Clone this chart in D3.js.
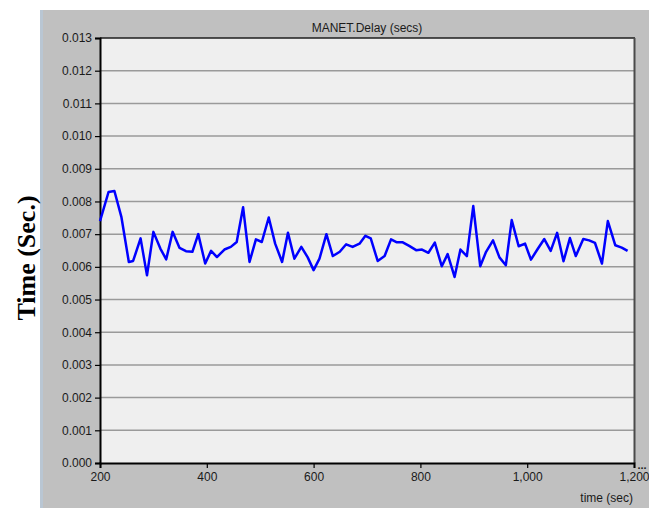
<!DOCTYPE html>
<html>
<head>
<meta charset="utf-8">
<script src="https://cdn.jsdelivr.net/npm/d3@7"></script>
<style>
  html, body { margin: 0; padding: 0; background: #ffffff; }
  svg { display: block; }
</style>
</head>
<body>
<svg id="chart" width="649" height="508"></svg>
<script>
// ---- data ----
const chartTitle = "MANET.Delay (secs)";
const xAxisLabel = "time (sec)";
const yAxisLabel = "Time (Sec.)";
const xTickValues = [200, 400, 600, 800, 1000, 1200];
const yTickValues = [0, 0.001, 0.002, 0.003, 0.004, 0.005, 0.006, 0.007, 0.008, 0.009, 0.010, 0.011, 0.012, 0.013];
const times = [200, 216, 227, 240, 254, 262, 276, 288, 300, 313, 324, 336, 349, 361, 373, 384, 397, 408, 419, 433,
  445, 456, 468, 480, 492, 503, 516, 528, 541, 552, 564, 577, 589, 600, 611, 624, 636, 649, 661, 673,
  686, 697, 707, 720, 733, 745, 756, 767, 779, 792, 803, 815, 827, 840, 851, 864, 875, 887, 899, 912,
  923, 936, 948, 960, 971, 984, 996, 1007, 1019, 1032, 1044, 1056, 1068, 1080, 1091, 1105, 1116, 1127, 1140, 1151,
  1165, 1177, 1188];
const delay = [0.00740, 0.00829, 0.00832, 0.00753, 0.00615, 0.00618, 0.00687, 0.00574, 0.00707, 0.00656,
  0.00623, 0.00707, 0.00658, 0.00648, 0.00646, 0.00700, 0.00610, 0.00649, 0.00630, 0.00653,
  0.00661, 0.00676, 0.00782, 0.00615, 0.00684, 0.00676, 0.00751, 0.00671, 0.00615, 0.00704,
  0.00625, 0.00661, 0.00629, 0.00590, 0.00625, 0.00700, 0.00633, 0.00646, 0.00669, 0.00661,
  0.00671, 0.00695, 0.00687, 0.00618, 0.00633, 0.00684, 0.00675, 0.00675, 0.00664, 0.00651,
  0.00653, 0.00643, 0.00674, 0.00602, 0.00639, 0.00569, 0.00653, 0.00633, 0.00786, 0.00602,
  0.00646, 0.00681, 0.00629, 0.00605, 0.00743, 0.00663, 0.00671, 0.00622, 0.00653, 0.00685,
  0.00649, 0.00704, 0.00617, 0.00688, 0.00633, 0.00685, 0.00681, 0.00673, 0.00610, 0.00740,
  0.00666, 0.00659, 0.00649];

// ---- layout ----
const svg = d3.select("#chart");
const W = 649, H = 508;
const plot = { left: 100, right: 634, top: 38, bottom: 463 };
const font = "'Liberation Sans', Arial, sans-serif";

// window background
svg.append("rect").attr("x", 0).attr("y", 0).attr("width", W).attr("height", H).attr("fill", "#ffffff");
svg.append("rect").attr("x", 40).attr("y", 10).attr("width", 3).attr("height", H - 10).attr("fill", "#b9c6d3");
svg.append("rect").attr("x", 43).attr("y", 10).attr("width", W - 43).attr("height", H - 10).attr("fill", "#c0c0c0");

const x = d3.scaleLinear().domain([200, 1200]).range([plot.left, plot.right]);
const y = d3.scaleLinear().domain([0, 0.013]).range([plot.bottom, plot.top]);

// plot area
svg.append("rect")
  .attr("x", plot.left).attr("y", plot.top)
  .attr("width", plot.right - plot.left).attr("height", plot.bottom - plot.top)
  .attr("fill", "#efefef");

// gridlines
svg.append("g")
  .selectAll("line")
  .data(yTickValues.filter(v => v > 0 && v < 0.013))
  .join("line")
  .attr("x1", plot.left).attr("x2", plot.right)
  .attr("y1", d => y(d)).attr("y2", d => y(d))
  .attr("stroke", "#9a9a9a").attr("stroke-width", 1.5);

// frame: top and right
svg.append("line").attr("x1", plot.left).attr("x2", plot.right + 1).attr("y1", plot.top).attr("y2", plot.top)
  .attr("stroke", "#1e1e1e").attr("stroke-width", 1.5);
svg.append("line").attr("x1", plot.right + 0.5).attr("x2", plot.right + 0.5).attr("y1", plot.top).attr("y2", plot.bottom)
  .attr("stroke", "#4a4a4a").attr("stroke-width", 2);

// axes
const yAxis = d3.axisLeft(y).tickValues(yTickValues).tickFormat(d3.format(".3f")).tickSize(5).tickPadding(3);
const gy = svg.append("g").attr("transform", `translate(${plot.left},0)`).call(yAxis);
gy.select(".domain").attr("stroke", "#000").attr("stroke-width", 2);
gy.selectAll(".tick line").attr("stroke", "#000").attr("stroke-width", 1.2);
gy.selectAll(".tick text").attr("font-family", font).attr("font-size", 12).attr("fill", "#1a1a1a");

const xAxis = d3.axisBottom(x).tickValues(xTickValues).tickFormat(d3.format(",")).tickSize(5).tickPadding(4);
const gx = svg.append("g").attr("transform", `translate(0,${plot.bottom})`).call(xAxis);
gx.select(".domain").attr("stroke", "#000").attr("stroke-width", 2);
gx.selectAll(".tick line").attr("stroke", "#000").attr("stroke-width", 1.2);
gx.selectAll(".tick text").attr("font-family", font).attr("font-size", 12).attr("fill", "#1a1a1a");

// data line
const line = d3.line().x((d, i) => x(times[i])).y(d => y(d));
svg.append("path")
  .datum(delay)
  .attr("d", line)
  .attr("fill", "none")
  .attr("stroke", "#0000ff")
  .attr("stroke-width", 2.5)
  .attr("stroke-linejoin", "round");

// title
svg.append("text")
  .attr("x", (plot.left + plot.right) / 2).attr("y", 32)
  .attr("text-anchor", "middle")
  .attr("font-family", font).attr("font-size", 12).attr("fill", "#1a1a1a")
  .text(chartTitle);

// x axis label
svg.append("text")
  .attr("x", plot.right - 1).attr("y", 502)
  .attr("text-anchor", "end")
  .attr("font-family", font).attr("font-size", 12).attr("fill", "#1a1a1a")
  .text(xAxisLabel);

// ellipsis marker near right end
svg.append("text")
  .attr("x", 642).attr("y", 469)
  .attr("text-anchor", "middle")
  .attr("font-family", font).attr("font-size", 11).attr("font-weight", "bold").attr("fill", "#1a1a1a")
  .text("...");

// y axis label
svg.append("text")
  .attr("transform", `translate(35,258) rotate(-90)`)
  .attr("text-anchor", "middle")
  .attr("font-family", "'Liberation Serif', 'Times New Roman', serif")
  .attr("font-weight", "bold").attr("font-size", 26).attr("fill", "#000")
  .text(yAxisLabel);
</script>
</body>
</html>
